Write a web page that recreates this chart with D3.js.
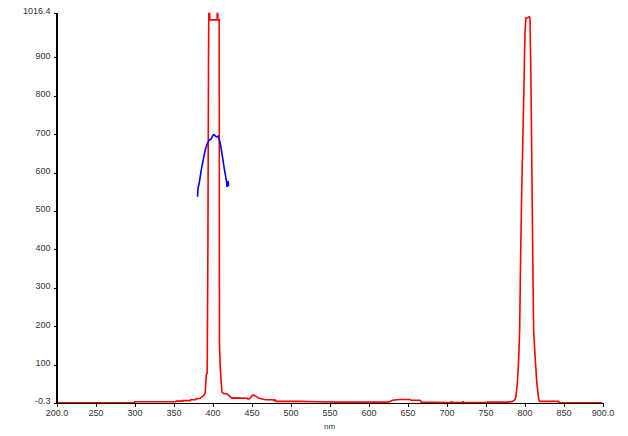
<!DOCTYPE html>
<html>
<head>
<meta charset="utf-8">
<script src="https://cdn.jsdelivr.net/npm/d3@7"></script>
<style>
  html, body { margin: 0; padding: 0; background: #fff; }
  svg { display: block; }
  text { font-family: "Liberation Sans", Arial, sans-serif; }
</style>
</head>
<body>
<svg id="chart" width="628" height="436"></svg>
<script>
// ---- data ----
const xTickValues = [200, 250, 300, 350, 400, 450, 500, 550, 600, 650, 700, 750, 800, 850, 900];
const xTickLabels = ["200.0", "250", "300", "350", "400", "450", "500", "550", "600", "650", "700", "750", "800", "850", "900.0"];
const yTickValues = [-0.3, 100, 200, 300, 400, 500, 600, 700, 800, 900, 1016.4];
const yTickLabels = ["-0.3", "100", "200", "300", "400", "500", "600", "700", "800", "900", "1016.4"];
const xAxisTitle = "nm";

// red spectrum (nm, intensity)
const redNm = [200, 300, 300.3, 353, 353.5, 361, 361.5, 371.5, 372, 378, 378.5, 384.3, 388.1, 390.7, 392, 393.2, 394.1, 394.9, 395.8, 396.2, 396.4,
  406, 406.4, 406.8, 408.6, 408.9, 409.9, 411, 412, 413.7, 418.8, 425.2, 426.5, 444.4, 445.5, 448, 450.8, 453, 456, 458.5, 463.6, 468.7,
  477.7, 479, 480, 481.5, 512, 535, 563, 625, 631, 640, 653, 655, 666, 668, 700, 705, 706, 708, 720, 721, 723, 726, 750, 752, 780,
  785, 787.5, 789, 790.5, 791.5, 792.5, 793.8, 795, 796.5, 798, 799.3, 800.6, 801.9, 803, 804.5, 806.2, 807, 808.3, 809.5, 810.5,
  811.7, 813, 814.3, 815.5, 816.8, 818.1, 819.4, 843.8, 845, 900];
const redVal = [0, 0, 3, 3, 4.5, 4.5, 6, 6, 8, 8, 10, 12, 18, 26, 73, 78, 400, 912, 1150, 1150, 998,
  998, 1100, 998, 998, 156, 94, 60, 29, 25, 23, 12, 13, 12, 10, 12, 19, 20, 17, 13, 10, 8,
  8, 6, 8, 4, 4, 3, 2, 2, 7, 9, 9, 7, 7, 2, 1, 1, 3, 1, 1, 3, 1, 1, 1, 2, 2,
  4, 8, 16, 45, 75, 112, 190, 380, 560, 700, 821, 967, 1003, 1003, 1004, 1006, 1003, 837, 600, 400,
  190, 140, 99, 60, 34, 10, 4, 4, 0, 0];

// blue spectrum (nm, intensity)
const blueNm = [380.8, 381.5, 383, 385.6, 388.1, 390.7, 393.2, 395.8, 398.4, 400.9, 402.2, 404.8, 407.3, 409.9, 412.4, 415, 417.6, 418.8, 420.1, 420.6, 421];
const blueVal = [537, 560, 573, 607, 633, 659, 675, 685, 688, 698, 699, 693, 695, 677, 646, 612, 581, 563, 578, 566, 565];

// ---- drawing ----
const svg = d3.select("#chart");
const x = d3.scaleLinear().domain([200, 900]).range([56.5, 602.5]);
const y = d3.scaleLinear().domain([-0.3, 1016.4]).range([403, 12.8]);

svg.append("defs").append("clipPath").attr("id", "plot")
  .append("rect").attr("x", 56.5).attr("y", 12.8).attr("width", 546).attr("height", 390.2);

const line = d3.line().x(d => x(d[0])).y(d => y(d[1]));

const plot = svg.append("g").attr("clip-path", "url(#plot)");
plot.append("path")
  .datum(redNm.map((n, i) => [n, redVal[i]]))
  .attr("d", line).attr("fill", "none").attr("stroke", "#ff0000").attr("stroke-width", 1.6)
  .attr("stroke-linejoin", "miter");
plot.append("path")
  .datum(blueNm.map((n, i) => [n, blueVal[i]]))
  .attr("d", line).attr("fill", "none").attr("stroke", "#0000ff").attr("stroke-width", 1.6);

// axes
const xAxis = d3.axisBottom(x).tickValues(xTickValues)
  .tickFormat((d, i) => xTickLabels[i]).tickSize(4).tickSizeOuter(0).tickPadding(3);
const gx = svg.append("g").attr("transform", "translate(0,403)").call(xAxis);
const yAxis = d3.axisLeft(y).tickValues(yTickValues)
  .tickFormat((d, i) => yTickLabels[i]).tickSize(3).tickSizeOuter(0).tickPadding(3);
const gy = svg.append("g").attr("transform", "translate(56.5,0)").call(yAxis);

[gx, gy].forEach(g => {
  g.select(".domain").attr("stroke", "#000").attr("stroke-width", 1.5).attr("shape-rendering", "crispEdges");
  g.selectAll(".tick line").attr("stroke", "#000").attr("stroke-width", 1).attr("shape-rendering", "crispEdges");
  g.selectAll(".tick text").attr("fill", "#333").style("font-size", "9px");
});
gy.selectAll(".tick text").attr("dy", "0.1em");

svg.append("text").attr("x", x(550)).attr("y", 429)
  .attr("text-anchor", "middle").attr("fill", "#333").style("font-size", "8px").text(xAxisTitle);
</script>
</body>
</html>
